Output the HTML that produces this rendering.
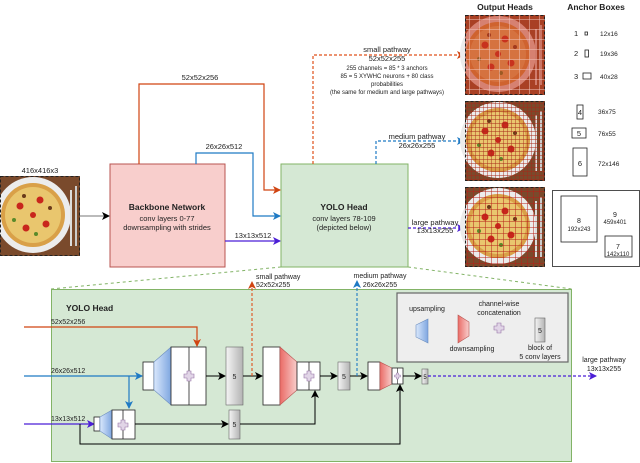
<!DOCTYPE html>
<html><head><meta charset="utf-8"><style>
html,body{margin:0;padding:0;background:#fff}
svg{display:block}
text{font-family:"Liberation Sans",sans-serif;fill:#222}
</style></head><body>
<svg width="640" height="463" viewBox="0 0 640 463" xmlns="http://www.w3.org/2000/svg">
<defs>
<marker id="ak" markerWidth="8" markerHeight="8" refX="7" refY="4" orient="auto" markerUnits="userSpaceOnUse"><path d="M0,0 L8,4 L0,8 L2,4z" fill="#000"/></marker>
<marker id="ar" markerWidth="8" markerHeight="8" refX="7" refY="4" orient="auto" markerUnits="userSpaceOnUse"><path d="M0,0 L8,4 L0,8 L2,4z" fill="#d04412"/></marker>
<marker id="ab" markerWidth="8" markerHeight="8" refX="7" refY="4" orient="auto" markerUnits="userSpaceOnUse"><path d="M0,0 L8,4 L0,8 L2,4z" fill="#1f7ac4"/></marker>
<marker id="ap" markerWidth="8" markerHeight="8" refX="7" refY="4" orient="auto" markerUnits="userSpaceOnUse"><path d="M0,0 L8,4 L0,8 L2,4z" fill="#4b1fd6"/></marker>
<linearGradient id="gb" x1="0" x2="1"><stop offset="0" stop-color="#dae8fc"/><stop offset="1" stop-color="#7ea6e0"/></linearGradient>
<linearGradient id="gr" x1="1" x2="0"><stop offset="0" stop-color="#f8cecc"/><stop offset="1" stop-color="#ea6b66"/></linearGradient>
<linearGradient id="gg" x1="0" x2="1"><stop offset="0" stop-color="#f5f5f5"/><stop offset="1" stop-color="#b3b3b3"/></linearGradient>
<pattern id="grid1" width="10" height="10" patternUnits="userSpaceOnUse"><path d="M10 0V10H0" fill="none" stroke="#f4c8c0" stroke-width="1"/></pattern>
<pattern id="grid2" width="4" height="4" patternUnits="userSpaceOnUse"><path d="M4 0V4H0" fill="none" stroke="#a82818" stroke-width="0.9"/></pattern>
<pattern id="grid3" width="6" height="6" patternUnits="userSpaceOnUse"><path d="M6 0V6H0" fill="none" stroke="#b82018" stroke-width="1"/></pattern>
<g id="pizza">
<rect width="80" height="80" fill="#7a4a2c"/>
<circle cx="33" cy="39" r="38" fill="#ececec"/>
<circle cx="33" cy="39" r="32" fill="#d9a048"/>
<circle cx="33" cy="39" r="28" fill="#e9c66e"/>
<circle cx="20" cy="30" r="3.5" fill="#c8261c"/><circle cx="40" cy="24" r="3.5" fill="#c8261c"/><circle cx="26" cy="52" r="3.5" fill="#c8261c"/><circle cx="46" cy="48" r="3.5" fill="#c8261c"/><circle cx="33" cy="39" r="3" fill="#c8261c"/><circle cx="14" cy="44" r="2" fill="#5a8a2a"/><circle cx="36" cy="58" r="2" fill="#5a8a2a"/><circle cx="50" cy="32" r="2" fill="#6a3a1a"/><circle cx="24" cy="20" r="2" fill="#6a3a1a"/>
<rect x="70" y="14" width="2" height="56" fill="#ddd"/><rect x="75" y="10" width="2" height="60" fill="#ccc"/>
</g>
</defs>

<text x="40" y="173" font-size="7.5" text-anchor="middle">416x416x3</text>
<use href="#pizza" x="0" y="176"/>
<rect x="0.5" y="176.5" width="79" height="79" fill="none" stroke="#222" stroke-dasharray="3,2"/>
<line x1="80" y1="216" x2="109" y2="216" stroke="#777" marker-end="url(#ak)"/>

<rect x="110" y="164" width="115" height="103" fill="#f8cecc" stroke="#b85450"/>
<text x="167" y="210" font-size="8.5" font-weight="bold" text-anchor="middle">Backbone Network</text>
<text x="167" y="221" font-size="7.5" text-anchor="middle">conv layers 0-77</text>
<text x="167" y="230" font-size="7.5" text-anchor="middle">downsampling with strides</text>

<rect x="281" y="164" width="127" height="103" fill="#d5e8d4" stroke="#82b366"/>
<text x="344" y="210" font-size="8.5" font-weight="bold" text-anchor="middle">YOLO Head</text>
<text x="344" y="221" font-size="7.5" text-anchor="middle">conv layers 78-109</text>
<text x="344" y="230" font-size="7.5" text-anchor="middle">(depicted below)</text>

<polyline points="139,164 139,84 264,84 264,190 280,190" fill="none" stroke="#d04412" stroke-width="1.2" marker-end="url(#ar)"/>
<text x="200" y="80" font-size="7.5" text-anchor="middle">52x52x256</text>
<polyline points="196,164 196,153 253,153 253,216 280,216" fill="none" stroke="#1f7ac4" stroke-width="1.2" marker-end="url(#ab)"/>
<text x="224" y="149" font-size="7.5" text-anchor="middle">26x26x512</text>
<line x1="225" y1="241" x2="280" y2="241" stroke="#4b1fd6" stroke-width="1.2" marker-end="url(#ap)"/>
<text x="253" y="238" font-size="7.5" text-anchor="middle">13x13x512</text>

<polyline points="313,164 313,55 464,55" fill="none" stroke="#e0501a" stroke-width="1.2" stroke-dasharray="3,2" marker-end="url(#ar)"/>
<text x="387" y="52" font-size="7.5" text-anchor="middle">small pathway</text>
<text x="387" y="61" font-size="7.5" text-anchor="middle">52x52x255</text>
<text x="387" y="70" font-size="6" text-anchor="middle">255 channels = 85 * 3 anchors</text>
<text x="387" y="78" font-size="6" text-anchor="middle">85 = 5 XYWHC neurons + 80 class</text>
<text x="387" y="86" font-size="6" text-anchor="middle">probabilities</text>
<text x="387" y="94" font-size="6" text-anchor="middle">(the same for medium and large pathways)</text>

<polyline points="376,164 376,141 464,141" fill="none" stroke="#1f7ac4" stroke-width="1.2" stroke-dasharray="3,2" marker-end="url(#ab)"/>
<text x="417" y="139" font-size="7.5" text-anchor="middle">medium pathway</text>
<text x="417" y="148" font-size="7.5" text-anchor="middle">26x26x255</text>
<line x1="408" y1="228" x2="464" y2="228" stroke="#4b1fd6" stroke-width="1.2" stroke-dasharray="3,2" marker-end="url(#ap)"/>
<text x="435" y="225" font-size="7.5" text-anchor="middle">large pathway</text>
<text x="435" y="233" font-size="7.5" text-anchor="middle">13x13x255</text>

<text x="505" y="10" font-size="8.5" font-weight="bold" text-anchor="middle">Output Heads</text>
<use href="#pizza" x="465" y="15"/><rect x="465" y="15" width="80" height="80" fill="#c83a20" opacity="0.6"/><rect x="465" y="15" width="80" height="80" fill="url(#grid1)"/>
<rect x="465.5" y="15.5" width="79" height="79" fill="none" stroke="#222" stroke-dasharray="3,2"/>
<use href="#pizza" x="465" y="101"/><rect x="465" y="101" width="80" height="80" fill="url(#grid2)"/>
<rect x="465.5" y="101.5" width="79" height="79" fill="none" stroke="#222" stroke-dasharray="3,2"/>
<use href="#pizza" x="465" y="187"/><rect x="465" y="187" width="80" height="80" fill="url(#grid3)"/>
<rect x="465.5" y="187.5" width="79" height="79" fill="none" stroke="#222" stroke-dasharray="3,2"/>

<text x="596" y="10" font-size="8.5" font-weight="bold" text-anchor="middle">Anchor Boxes</text>
<g font-size="6.5">
<text x="574" y="36" font-size="7.5">1</text><rect x="585" y="32" width="2.5" height="3" fill="none" stroke="#222" stroke-width="0.8"/><text x="600" y="36">12x16</text>
<text x="574" y="56" font-size="7.5">2</text><rect x="585" y="50" width="3.5" height="7" fill="none" stroke="#222" stroke-width="0.8"/><text x="600" y="56">19x36</text>
<text x="574" y="79" font-size="7.5">3</text><rect x="583" y="73" width="8" height="6" fill="none" stroke="#222" stroke-width="0.8"/><text x="600" y="79">40x28</text>
<rect x="577" y="105" width="6" height="14" fill="none" stroke="#222" stroke-width="0.8"/><text x="580" y="115" font-size="7.5" text-anchor="middle">4</text><text x="598" y="114">36x75</text>
<rect x="572" y="128" width="14" height="10" fill="none" stroke="#222" stroke-width="0.8"/><text x="579" y="136" font-size="7.5" text-anchor="middle">5</text><text x="598" y="136">76x55</text>
<rect x="573" y="148" width="14" height="28" fill="none" stroke="#222" stroke-width="0.8"/><text x="580" y="166" font-size="7.5" text-anchor="middle">6</text><text x="598" y="166">72x146</text>
<rect x="552.5" y="190.5" width="87" height="76" fill="none" stroke="#222" stroke-width="0.8"/>
<rect x="561" y="196" width="36" height="46" fill="none" stroke="#222" stroke-width="0.8"/><text x="579" y="223" text-anchor="middle" font-size="7">8</text><text x="579" y="231" text-anchor="middle" font-size="6">192x243</text>
<text x="615" y="217" text-anchor="middle" font-size="7">9</text><text x="615" y="224" text-anchor="middle" font-size="6">459x401</text>
<rect x="605" y="236" width="27" height="21" fill="none" stroke="#222" stroke-width="0.8"/><text x="618" y="249" text-anchor="middle" font-size="7">7</text><text x="618" y="256" text-anchor="middle" font-size="6">142x110</text>
</g>

<line x1="281" y1="267" x2="51" y2="289" stroke="#82b366" stroke-dasharray="3,3"/>
<line x1="408" y1="267" x2="572" y2="289" stroke="#82b366" stroke-dasharray="3,3"/>

<rect x="51.5" y="289.5" width="520" height="172" fill="#d5e8d4" stroke="#82b366"/>
<text x="66" y="311" font-size="8.5" font-weight="bold">YOLO Head</text>

<rect x="397" y="293" width="171" height="69" fill="#eeeeee" stroke="#666" stroke-width="1.2"/>
<text x="427" y="311" font-size="7" text-anchor="middle">upsampling</text>
<polygon points="416,325 428,319 428,343 416,337" fill="url(#gb)" stroke="#6c8ebf" stroke-width="0.6"/>
<polygon points="458,315 469,322 469,336 458,343" fill="url(#gr)" stroke="#b85450" stroke-width="0.6"/>
<text x="472" y="351" font-size="7" text-anchor="middle">downsampling</text>
<text x="499" y="306" font-size="7" text-anchor="middle">channel-wise</text>
<text x="499" y="315" font-size="7" text-anchor="middle">concatenation</text>
<path d="M497,323h4v3h3v4h-3v3h-4v-3h-3v-4h3z" fill="#e1d5e7" stroke="#9673a6" stroke-width="0.6"/>
<rect x="535" y="318" width="10" height="24" fill="url(#gg)" stroke="#666" stroke-width="0.6"/><text x="540" y="333" font-size="7" text-anchor="middle">5</text>
<text x="540" y="350" font-size="7" text-anchor="middle">block of</text>
<text x="540" y="359" font-size="7" text-anchor="middle">5 conv layers</text>

<polyline points="24,327 197,327 197,346" fill="none" stroke="#d04412" stroke-width="1.2" marker-end="url(#ar)"/>
<text x="51" y="324" font-size="7">52x52x256</text>
<line x1="24" y1="376" x2="142" y2="376" stroke="#1f7ac4" stroke-width="1.2" marker-end="url(#ab)"/>
<polyline points="129,376 129,408" fill="none" stroke="#1f7ac4" stroke-width="1.2" marker-end="url(#ab)"/>
<text x="51" y="373" font-size="7">26x26x512</text>
<line x1="24" y1="424" x2="94" y2="424" stroke="#4b1fd6" stroke-width="1.2" marker-end="url(#ap)"/>
<text x="51" y="421" font-size="7">13x13x512</text>

<rect x="143" y="362" width="11" height="28" fill="#fff" stroke="#222" stroke-width="0.8"/>
<polygon points="154,362 171,347 171,405 154,390" fill="url(#gb)" stroke="#6c8ebf" stroke-width="0.6"/>
<rect x="171" y="347" width="35" height="58" fill="#fff" stroke="#222" stroke-width="0.8"/>
<line x1="189" y1="347" x2="189" y2="405" stroke="#222" stroke-width="0.8"/>
<path d="M187,371h4v3h3v4h-3v3h-4v-3h-3v-4h3z" fill="#e1d5e7" stroke="#9673a6" stroke-width="0.6"/>
<line x1="206" y1="376" x2="225" y2="376" stroke="#000" marker-end="url(#ak)"/>
<rect x="226" y="347" width="17" height="58" fill="url(#gg)" stroke="#666" stroke-width="0.6"/><text x="234.5" y="379" font-size="7" text-anchor="middle">5</text>
<line x1="243" y1="376" x2="262" y2="376" stroke="#000" marker-end="url(#ak)"/>
<line x1="252" y1="376" x2="252" y2="282" stroke="#e0501a" stroke-width="1.1" stroke-dasharray="3,2" marker-end="url(#ar)"/>
<text x="256" y="279" font-size="7">small pathway</text>
<text x="256" y="287" font-size="7">52x52x255</text>

<rect x="263" y="347" width="17" height="58" fill="#fff" stroke="#222" stroke-width="0.8"/>
<polygon points="280,347 297,362 297,390 280,405" fill="url(#gr)" stroke="#b85450" stroke-width="0.6"/>
<rect x="297" y="362" width="23" height="28" fill="#fff" stroke="#222" stroke-width="0.8"/>
<line x1="309" y1="362" x2="309" y2="390" stroke="#222" stroke-width="0.8"/>
<path d="M307,371h4v3h3v4h-3v3h-4v-3h-3v-4h3z" fill="#e1d5e7" stroke="#9673a6" stroke-width="0.6"/>
<line x1="320" y1="376" x2="337" y2="376" stroke="#000" marker-end="url(#ak)"/>
<rect x="338" y="362" width="12" height="28" fill="url(#gg)" stroke="#666" stroke-width="0.6"/><text x="344" y="379" font-size="7" text-anchor="middle">5</text>
<line x1="350" y1="376" x2="367" y2="376" stroke="#000" marker-end="url(#ak)"/>
<line x1="357" y1="376" x2="357" y2="281" stroke="#1f7ac4" stroke-width="1.1" stroke-dasharray="3,2" marker-end="url(#ab)"/>
<text x="380" y="278" font-size="7" text-anchor="middle">medium pathway</text>
<text x="380" y="287" font-size="7" text-anchor="middle">26x26x255</text>

<rect x="368" y="362" width="12" height="28" fill="#fff" stroke="#222" stroke-width="0.8"/>
<polygon points="380,362 392,368 392,384 380,390" fill="url(#gr)" stroke="#b85450" stroke-width="0.6"/>
<rect x="392" y="368" width="11" height="16" fill="#fff" stroke="#222" stroke-width="0.8"/>
<line x1="397.5" y1="368" x2="397.5" y2="384" stroke="#222" stroke-width="0.6"/>
<path d="M396.5,373h2v2h2v2h-2v2h-2v-2h-2v-2h2z" fill="#e1d5e7" stroke="#9673a6" stroke-width="0.5"/>
<line x1="403" y1="376" x2="421" y2="376" stroke="#000" marker-end="url(#ak)"/>
<rect x="422" y="369" width="6" height="15" fill="url(#gg)" stroke="#666" stroke-width="0.6"/><text x="425" y="379" font-size="6" text-anchor="middle">5</text>
<line x1="428" y1="376" x2="596" y2="376" stroke="#4b1fd6" stroke-width="1.2" stroke-dasharray="3,2" marker-end="url(#ap)"/>
<text x="604" y="362" font-size="7" text-anchor="middle">large pathway</text>
<text x="604" y="371" font-size="7" text-anchor="middle">13x13x255</text>

<rect x="94" y="417" width="6" height="14" fill="#fff" stroke="#222" stroke-width="0.8"/>
<polygon points="100,417 112,410 112,439 100,431" fill="url(#gb)" stroke="#6c8ebf" stroke-width="0.6"/>
<rect x="112" y="410" width="23" height="29" fill="#fff" stroke="#222" stroke-width="0.8"/>
<line x1="123" y1="410" x2="123" y2="439" stroke="#222" stroke-width="0.8"/>
<path d="M121,420h4v3h3v4h-3v3h-4v-3h-3v-4h3z" fill="#e1d5e7" stroke="#9673a6" stroke-width="0.6"/>
<line x1="135" y1="424" x2="228" y2="424" stroke="#000" marker-end="url(#ak)"/>
<rect x="229" y="410" width="11" height="29" fill="url(#gg)" stroke="#666" stroke-width="0.6"/><text x="234.5" y="427" font-size="7" text-anchor="middle">5</text>
<polyline points="240,424 315,424 315,391" fill="none" stroke="#000" marker-end="url(#ak)"/>
<polyline points="80,424 80,444 400,444 400,385" fill="none" stroke="#000" marker-end="url(#ak)"/>
</svg>
</body></html>
